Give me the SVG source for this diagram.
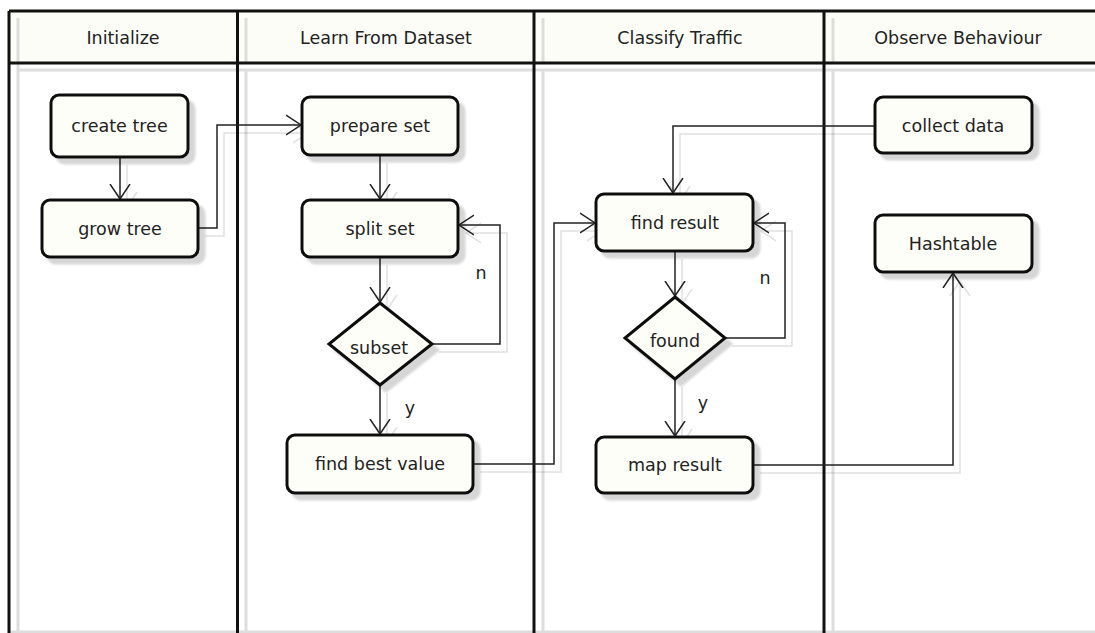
<svg xmlns="http://www.w3.org/2000/svg" width="1095" height="633" viewBox="0 0 1095 633">
<style>
text{font-family:"DejaVu Sans","Liberation Sans",sans-serif;font-size:17.5px;fill:#222;text-anchor:middle}
.node{fill:#fefef8;stroke:#111;stroke-width:3}
.lane{stroke:#111;stroke-width:3;fill:none}
.lshadow{stroke:#ddd;stroke-width:3;fill:none}
.conn{stroke:#222;stroke-width:1.5;fill:none}
</style>
<defs>
<filter id="sh" x="-10%" y="-10%" width="130%" height="140%">
<feDropShadow dx="6" dy="6" stdDeviation="1.2" flood-color="#000" flood-opacity="0.16"/>
</filter>
<filter id="csh" x="-10%" y="-10%" width="130%" height="130%">
<feDropShadow dx="7" dy="8" stdDeviation="0.3" flood-color="#000" flood-opacity="0.12"/>
</filter>
<marker id="arr" viewBox="0 0 16 22" refX="15" refY="11" markerWidth="16" markerHeight="22" markerUnits="userSpaceOnUse" orient="auto">
<path d="M0,1 L15,11 L0,21" fill="none" stroke="#222" stroke-width="1.5"/>
</marker>
</defs>
<rect width="1095" height="633" fill="#fff"/>
<g id="lanes">
<rect x="9" y="11" width="1086" height="52" fill="#fdfdf7"/>
<path class="lshadow" d="M18,18 V633 M246,70 V633 M543,70 V633 M833,70 V633 M18,70 H1095 M9,632 H1095"/>
<path class="lshadow" d="M246,18 V62 M543,18 V62 M833,18 V62"/>
<path class="lane" d="M9,11 V633 M9,11 H1095 M9,63 H1095 M237.5,11 V633 M534,11 V633 M824,11 V633"/>
<text x="123" y="44">Initialize</text>
<text x="386" y="44">Learn From Dataset</text>
<text x="680" y="44">Classify Traffic</text>
<text x="958" y="44">Observe Behaviour</text>
</g>
<g id="connectors">
<g filter="url(#csh)">
<path class="conn" d="M120,157 V199" marker-end="url(#arr)"/>
<path class="conn" d="M198,228 H217 V125 H301" marker-end="url(#arr)"/>
<path class="conn" d="M380,155 V199" marker-end="url(#arr)"/>
<path class="conn" d="M380,257 V302" marker-end="url(#arr)"/>
<path class="conn" d="M432,344 H500 V225 H459" marker-end="url(#arr)"/>
<path class="conn" d="M380,385 V434" marker-end="url(#arr)"/>
<path class="conn" d="M473,464 H554 V223 H595" marker-end="url(#arr)"/>
<path class="conn" d="M875,126 H673 V193" marker-end="url(#arr)"/>
<path class="conn" d="M675,251 V296" marker-end="url(#arr)"/>
<path class="conn" d="M725,338 H785 V223 H754" marker-end="url(#arr)"/>
<path class="conn" d="M675,379 V436" marker-end="url(#arr)"/>
<path class="conn" d="M753,465 H953 V273" marker-end="url(#arr)"/>
</g>
<text x="481" y="279">n</text>
<text x="410" y="414">y</text>
<text x="765" y="284">n</text>
<text x="703" y="409">y</text>
</g>
<g id="create-tree"><rect class="node" filter="url(#sh)" x="51" y="95" width="137" height="62" rx="8"/><text x="119.5" y="132">create tree</text></g>
<g id="grow-tree"><rect class="node" filter="url(#sh)" x="42" y="200" width="156" height="57" rx="8"/><text x="120" y="235">grow tree</text></g>
<g id="prepare-set"><rect class="node" filter="url(#sh)" x="302" y="97" width="156" height="58" rx="8"/><text x="380" y="132">prepare set</text></g>
<g id="split-set"><rect class="node" filter="url(#sh)" x="302" y="200" width="156" height="57" rx="8"/><text x="380" y="235">split set</text></g>
<g id="subset"><path class="node" filter="url(#sh)" d="M380,303 L432,344 L380,385 L329,344 Z"/><text x="379" y="354">subset</text></g>
<g id="find-best-value"><rect class="node" filter="url(#sh)" x="287" y="435" width="186" height="58" rx="8"/><text x="380" y="470">find best value</text></g>
<g id="find-result"><rect class="node" filter="url(#sh)" x="596" y="194" width="157" height="57" rx="8"/><text x="675" y="229">find result</text></g>
<g id="found"><path class="node" filter="url(#sh)" d="M675,297 L725,338 L675,379 L625,338 Z"/><text x="675" y="347">found</text></g>
<g id="map-result"><rect class="node" filter="url(#sh)" x="596" y="437" width="157" height="56" rx="8"/><text x="675" y="471">map result</text></g>
<g id="collect-data"><rect class="node" filter="url(#sh)" x="875" y="97" width="157" height="56" rx="8"/><text x="953" y="132">collect data</text></g>
<g id="hashtable"><rect class="node" filter="url(#sh)" x="875" y="215" width="157" height="57" rx="8"/><text x="953" y="250">Hashtable</text></g>
</svg>
